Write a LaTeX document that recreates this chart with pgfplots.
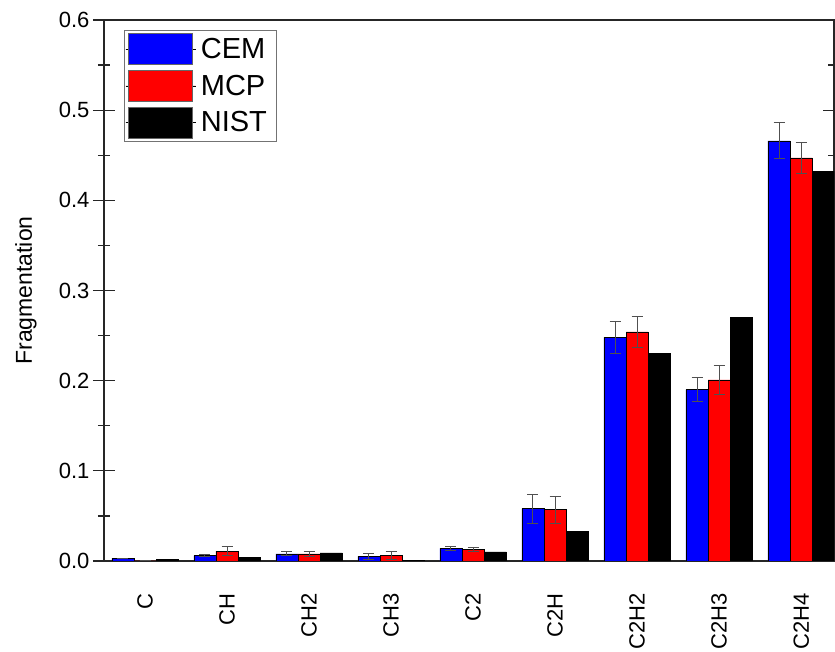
\documentclass[border=0pt]{standalone}
\usepackage{pgfplots}
\pgfplotsset{compat=1.18}
\usepackage{pgfplotstable}
\usepackage{fontspec}
\setmainfont{Liberation Sans}
\definecolor{errgray}{HTML}{505050}
\pgfplotstableread{
x y e
0 0.003 0.000
1 0.006 0.001
2 0.008 0.002
3 0.005 0.003
4 0.014 0.002
5 0.058 0.016
6 0.248 0.018
7 0.190 0.013
8 0.466 0.020
}\cem
\pgfplotstableread{
x y e
0 0.000 0.000
1 0.011 0.005
2 0.008 0.003
3 0.006 0.004
4 0.013 0.002
5 0.057 0.015
6 0.254 0.017
7 0.201 0.016
8 0.447 0.017
}\mcp
\pgfplotstableread{
x y
0 0.002
1 0.004
2 0.009
3 0.001
4 0.010
5 0.033
6 0.230
7 0.270
8 0.432
}\nist
\begin{document}
\begin{tikzpicture}
\begin{axis}[
  at={(0,0)}, anchor=south west,
  scale only axis, width=730pt, height=541pt,
  ybar=0pt, bar width=0.27,
  xmin=-0.5, xmax=8.4, ymin=0, ymax=0.6,
  axis line style={line width=1.2pt, draw=black!85},
  xtick={0,...,8},
  xticklabels={C,CH,CH2,CH3,C2,C2H,C2H2,C2H3,C2H4},
  xtick style={draw=none},
  xticklabel style={rotate=90, anchor=east, font=\fontsize{22}{24}\selectfont},
  xticklabel shift=18pt,
  ytick={0,0.1,...,0.6},
  minor y tick num=1,
  tick align=center,
  major tick length=22pt, minor tick length=12pt,
  ytick style={line width=1.2pt, draw=black!85},
  yticklabel style={font=\fontsize{22}{24}\selectfont, /pgf/number format/fixed, /pgf/number format/fixed zerofill, /pgf/number format/precision=1},
  /pgf/number format/assume math mode=true,
  ylabel={Fragmentation},
  every axis y label/.style={at={(axis description cs:-0.107,0.5)}, rotate=90, anchor=center, font=\fontsize{23}{26}\selectfont},
  legend image code/.code={\path (0pt,0pt) -- (70pt,0pt); \draw[#1, draw=black!60, line width=0.6pt] (3pt,-15.5pt) rectangle (67pt,15.5pt);},
  legend style={at={(axis description cs:0.0274,0.9815)}, anchor=north west,
    draw=black!55, line width=0.8pt, inner xsep=1pt, inner ysep=3pt,
    row sep=5pt, font=\fontsize{29}{31}\selectfont,
    nodes={inner ysep=0pt, inner xsep=5pt, text width=69pt, align=left}},
  legend cell align=left,
  error bars/error bar style={line width=1pt, draw=errgray},
  error bars/error mark options={rotate=90, line width=1pt, draw=errgray, mark size=5.5pt},
]
\addplot[fill=blue, draw=black, line width=0.5pt,
  error bars/.cd, y dir=both, y explicit] table[x=x, y=y, y error=e] {\cem};
\addlegendentry{CEM}
\addplot[fill=red, draw=black, line width=0.5pt,
  error bars/.cd, y dir=both, y explicit] table[x=x, y=y, y error=e] {\mcp};
\addlegendentry{MCP}
\addplot[fill=black, draw=black, line width=0.5pt] table[x=x, y=y] {\nist};
\addlegendentry{NIST}
\end{axis}
\pgfresetboundingbox
\useasboundingbox (-104pt,-91pt) rectangle (731pt,561pt);
\end{tikzpicture}
\end{document}
